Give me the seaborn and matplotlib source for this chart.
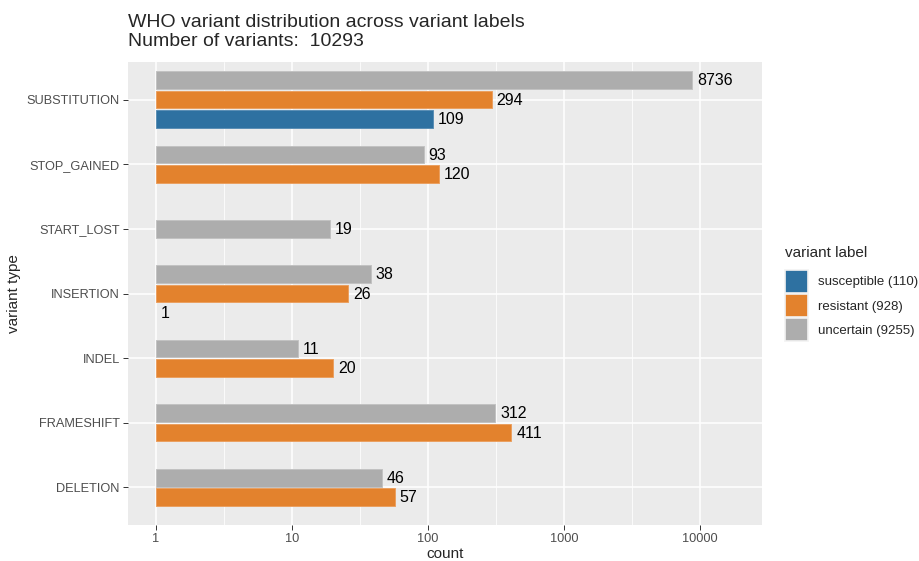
import numpy as np
import pandas as pd
import seaborn as sns
import matplotlib
import matplotlib.pyplot as plt
from matplotlib.patches import Patch
from matplotlib.ticker import FixedLocator, FixedFormatter

matplotlib.use('Agg')

# data
variant_types = ["SUBSTITUTION", "STOP_GAINED", "START_LOST", "INSERTION",
                 "INDEL", "FRAMESHIFT", "DELETION"]
labels = ["uncertain", "resistant", "susceptible"]
uncertain = [8736, 93, 19, 38, 11, 312, 46]
resistant = [294, 120, None, 26, 20, 411, 57]
susceptible = [109, None, None, 1, None, None, None]
totals = {"susceptible": 110, "resistant": 928, "uncertain": 9255}
n_total = 10293
colors = {"susceptible": "#2E71A1", "resistant": "#E3822D", "uncertain": "#ADADAD"}
edges = {"susceptible": "#5B8FB5", "resistant": "#EBA060", "uncertain": "#C2C2C2"}

rows = []
for i, vt in enumerate(variant_types):
    for lab, vals in zip(labels, [uncertain, resistant, susceptible]):
        if vals[i] is not None:
            rows.append({"variant_type": vt, "label": lab, "count": vals[i], "cat": i})
df = pd.DataFrame(rows)

sns.set_theme(style="darkgrid", rc={
    "axes.facecolor": "#EBEBEB",
    "grid.color": "white",
    "axes.edgecolor": "#EBEBEB",
})
plt.rcParams['font.family'] = ['Liberation Sans', 'DejaVu Sans']

fig = plt.figure(figsize=(9.19, 5.61), dpi=100)
ax = fig.add_axes([128 / 919, 1 - 525 / 561, (762 - 128) / 919, (525 - 62) / 561])

slot = 0.3
bar_h = 0.27
for i, vt in enumerate(variant_types):
    sub = df[df["cat"] == i].reset_index(drop=True)
    n = len(sub)
    for j, r in sub.iterrows():
        y = i + (j - (n - 1) / 2) * slot
        w = r["count"] - 1
        if w > 0:
            ax.barh(y, w, left=1, height=bar_h, color=colors[r["label"]],
                    edgecolor=edges[r["label"]], linewidth=0.7, zorder=3)
        ax.annotate(str(r["count"]), (r["count"], y), xytext=(3.5, -0.5),
                    textcoords="offset points", ha="left", va="center",
                    fontsize=11.5, color="black", zorder=4)

ax.set_xscale("log")
ax.set_xlim(10 ** (-28 / 136), 10 ** ((762 - 156) / 136))
ax.set_ylim(6.58, -0.58)
ax.xaxis.set_major_locator(FixedLocator([1, 10, 100, 1000, 10000]))
ax.xaxis.set_major_formatter(FixedFormatter(["1", "10", "100", "1000", "10000"]))
ax.xaxis.set_minor_locator(FixedLocator([10 ** 0.5, 10 ** 1.5, 10 ** 2.5, 10 ** 3.5]))
ax.xaxis.set_minor_formatter(FixedFormatter([]))
ax.set_yticks(range(len(variant_types)))
ax.set_yticklabels(variant_types)
ax.grid(which="major", color="white", linewidth=1.1, zorder=0)
ax.grid(which="minor", axis="x", color="white", linewidth=0.55, zorder=0)
ax.set_axisbelow(True)
for s in ax.spines.values():
    s.set_visible(False)
ax.tick_params(axis="both", which="major", length=3.5, width=0.7, color="#333333",
               labelsize=9.2, labelcolor="#4D4D4D", pad=2.5, bottom=True, left=True)
ax.tick_params(axis="x", which="minor", length=0)

ax.set_xlabel("count", fontsize=11, labelpad=1)
ax.set_ylabel("variant type", fontsize=11, labelpad=4)

fig.text(128 / 919, 1 - 14 / 561,
         "WHO variant distribution across variant labels\nNumber of variants:  %d" % n_total,
         ha="left", va="top", fontsize=14, linespacing=1.12)

handles = [Patch(facecolor=colors[k], edgecolor="#F2F2F2", linewidth=1.2)
           for k in ["susceptible", "resistant", "uncertain"]]
leg_labels = ["%s (%d)" % (k, totals[k]) for k in ["susceptible", "resistant", "uncertain"]]
leg = fig.legend(handles, leg_labels, title="variant label", loc="upper left",
                 bbox_to_anchor=(785 / 919, 1 - 246 / 561), frameon=False,
                 fontsize=9.5, title_fontsize=11, handlelength=1.72, handleheight=2.3,
                 labelspacing=0.1, handletextpad=0.75, borderpad=0, borderaxespad=0)
leg._legend_box.align = "left"
leg._legend_box.sep = 7

fig.savefig("out.png", dpi=100)
